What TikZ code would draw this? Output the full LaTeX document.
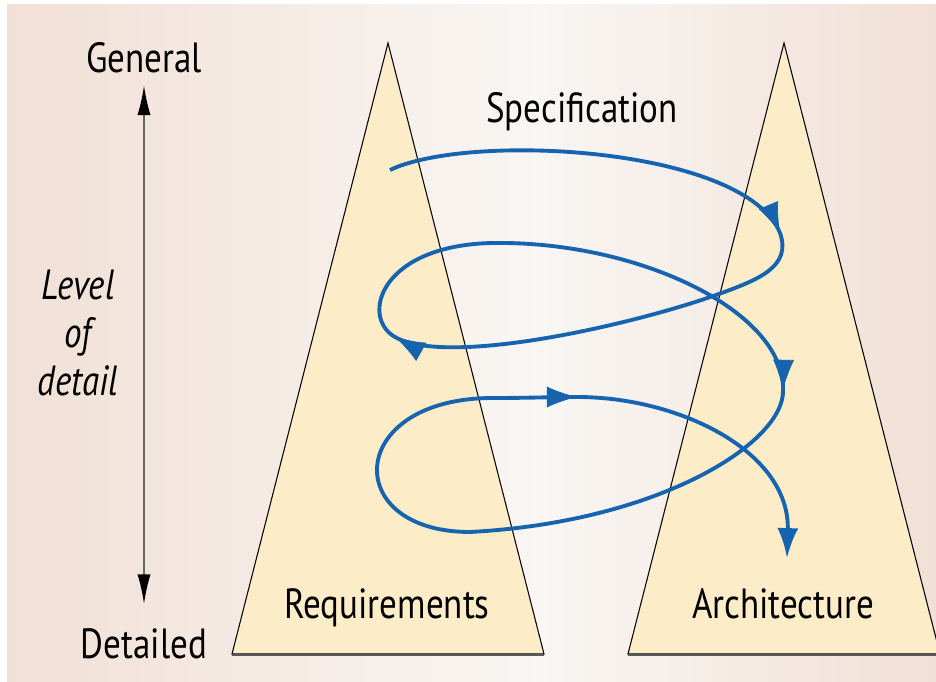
\documentclass[tikz,border=0pt]{standalone}
\usepackage{fontspec}
\setmainfont{PT Sans}[FakeStretch=0.83]
\usepackage{tikz}
\usetikzlibrary{arrows.meta}
\usetikzlibrary{decorations.markings}
\definecolor{bgside}{HTML}{F1E0D6}
\definecolor{bgmid}{HTML}{F9F6F3}
\definecolor{trifill}{HTML}{FCECC8}
\definecolor{spiralcolor}{HTML}{1664AF}
\begin{document}
\begin{tikzpicture}[x=0.02cm,y=0.02cm,
   lbl/.style={font=\fontsize{24}{27.2}\selectfont,inner sep=0pt},
   spiraltip/.tip={Latex[length=17pt,width=12pt,color=spiralcolor]},
   spec/.style={spiralcolor,line width=2.2pt,-spiraltip},
   endtip/.style={draw=none,decorate,decoration={markings,mark=at position -0.2pt with {\arrow{spiraltip}}}}]
%%\draw[step=50,color=gray!50,dotted] (0,0) grid (936,682);
\clip (0,0) rectangle (936,682);
\shade[left color=bgside,right color=bgmid] (7,0) rectangle (540,677);
\shade[left color=bgmid,right color=bgside] (540,0) rectangle (936,677);
\foreach \x/\name/\text in {388/req/Requirements, 784/arch/Architecture}{
   \draw[fill=trifill,line width=0.6pt] (\x-156,28) -- (\x,639) -- (\x+156,28) -- cycle;
   \draw[black!65,line width=1.2pt] (\x-156,27) -- (\x+156,27);
   \node[lbl,anchor=base] (\name) at (\x-1,63) {\text};
}
\node[lbl,anchor=base] (general) at (144,609) {General};
\node[lbl,anchor=base] (detailed) at (144,23) {Detailed};
\node[lbl,anchor=base] (specification) at (582,559) {Specification};
\node[lbl,font=\fontsize{24}{27.2}\selectfont\itshape,align=center] (level) at (78,349) {Level\\of\\detail};
\draw[black!60,line width=1.1pt,{Latex[length=17pt,width=7.5pt,black]}-{Latex[length=17pt,width=7.5pt,black]},
   shorten <=6.5pt,shorten >=14pt] (general.south) -- (detailed.north);
% spiral
\coordinate (s0) at (390,512);
\coordinate (a1) at (780,449);
\coordinate (a2) at (395,345);
\coordinate (a3) at (783,292);
\coordinate (a4) at (577,285);
\coordinate (a5) at (787,124);
\draw[spec] (s0) .. controls (470,550) and (745,535) .. (a1)
   .. controls (792,415) and (758,402) .. (716,387) .. controls (632,357) and (447,315) .. (a2)
   .. controls (360,365) and (380,437) .. (493,439) .. controls (640,441) and (785,370) .. (a3)
   .. controls (785,240) and (660,160) .. (470,150) .. controls (340,150) and (345,284) .. (493,284)
   .. controls (530,284) and (550,285) .. (a4)
   .. controls (680,285) and (790,230) .. (a5);
\path[endtip] (s0) .. controls (470,550) and (745,535) .. (a1);
\path[endtip] (716,387) .. controls (632,357) and (447,315) .. (a2);
\path[endtip] (493,439) .. controls (640,441) and (785,370) .. (a3);
\path[endtip] (493,284) .. controls (530,284) and (550,285) .. (a4);
\end{tikzpicture}
\end{document}
